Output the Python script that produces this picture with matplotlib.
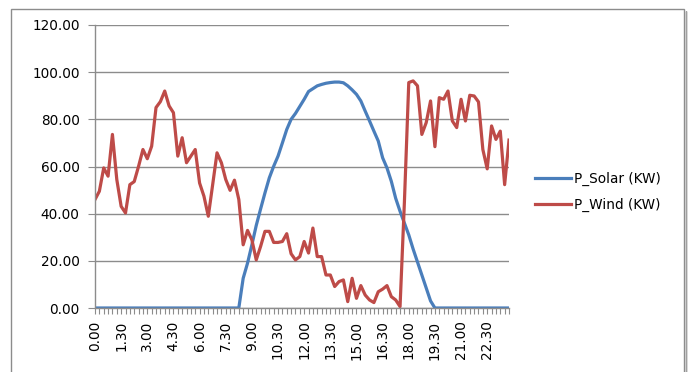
import matplotlib
matplotlib.use("Agg")
import matplotlib.pyplot as plt
from matplotlib.patches import Rectangle

# ---- data ----
hours_labels = ["0.00", "1.30", "3.00", "4.30", "6.00", "7.30", "9.00", "10.30",
                "12.00", "13.30", "15.00", "16.30", "18.00", "19.30", "21.00", "22.30"]

p_solar = [0] * 34 + [
    12.6, 19, 26.8, 35, 42, 48.8, 55.2, 60.1, 64.4, 70, 75.7, 80, 82.5, 85.5,
    88.5, 91.8, 93, 94.2, 94.8, 95.3, 95.6, 95.8, 95.8, 95.5, 94.2, 92.5, 90.6,
    87.8, 83.5, 79.3, 75, 70.8, 63.7, 59.4, 53.7, 46.5, 41, 36, 31, 25, 19.5,
    14, 8.5, 3] + [0] * 18

p_wind = [
    46, 49.5, 59.4, 55.9, 73.6, 54.5, 43.1, 40.3, 52.3, 53.6, 60.1, 67.2,
    63.3, 68.6, 85, 87.5, 92, 85.7, 82.8, 64.4, 72.2, 61.6, 64.4, 67.2,
    53, 47.4, 38.9, 52.3, 65.8, 61.6, 54.5, 49.9, 54.2, 46, 26.8, 32.9,
    28.9, 20.4, 26.1, 32.5, 32.5, 27.8, 27.8, 28.2, 31.5, 23, 20.4, 21.8,
    28.2, 23.3, 33.9, 21.8, 21.8, 14, 14, 9.1, 11.2, 11.9, 2.7, 12.6,
    4.1, 9.5, 5.5, 3.4, 2.3, 6.9, 8, 9.5, 4.8, 3.4, 0.6, 45,
    95.6, 96.3, 94.2, 73.6, 78.6, 87.8, 68.4, 89.2, 88.5, 92, 79.3, 76.5,
    88.5, 79.3, 90.2, 89.9, 87.4, 67.2, 59, 77.2, 71.5, 75, 52.3, 71.2]

series_names = ["P_Solar (KW)", "P_Wind (KW)"]
colors = ["#4A7EBB", "#BE4B48"]

# ---- figure ----
W, H = 688, 372
fig = plt.figure(figsize=(W / 100, H / 100), dpi=100)
plt.rcParams['font.family'] = ['DejaVu Sans']

ax = fig.add_axes([95 / W, (H - 308) / H, (509 - 95) / W, (308 - 25) / H])

x = list(range(len(p_solar)))
ax.plot(x, p_solar, color=colors[0], lw=2.3, label=series_names[0], solid_joinstyle='round')
ax.plot(x, p_wind, color=colors[1], lw=2.3, label=series_names[1], solid_joinstyle='round')

ax.set_xlim(0, len(x) - 1)
ax.set_ylim(0, 120)
ax.set_yticks(range(0, 121, 20))
ax.set_yticklabels([f"{v:.2f}" for v in range(0, 121, 20)], fontsize=9.8)
ax.yaxis.grid(True, color="#8C8C8C", lw=1)
ax.set_axisbelow(True)

ax.set_xticks(x)
lbls = [""] * len(x)
for k, t in enumerate(hours_labels):
    lbls[k * 6] = t
ax.set_xticklabels(lbls, rotation=90, fontsize=9.8)

for s in ["top", "right"]:
    ax.spines[s].set_visible(False)
for s in ["left", "bottom"]:
    ax.spines[s].set_color("#8C8C8C")
    ax.spines[s].set_linewidth(1)
ax.tick_params(axis="y", length=5, color="#8C8C8C", pad=6)
ax.tick_params(axis="x", length=4, color="#8C8C8C", pad=5)

leg = fig.legend(loc="upper left", bbox_to_anchor=(523 / W, 1 - 160 / H),
                 frameon=False, fontsize=9.8, handlelength=2.6,
                 handletextpad=0.25, labelspacing=0.85)

# chart border
fig.patches.append(Rectangle((11 / W, -0.1), (684 - 11) / W, (H - 9) / H + 0.1,
                             transform=fig.transFigure, fill=False,
                             edgecolor="#8C8C8C", lw=1))
fig.patches.append(Rectangle((685.5 / W, -0.1), 0.5 / W, (H - 11) / H + 0.1,
                             transform=fig.transFigure, fill=False,
                             edgecolor="#A0A0A0", lw=1))

fig.savefig("out.png", dpi=100)
